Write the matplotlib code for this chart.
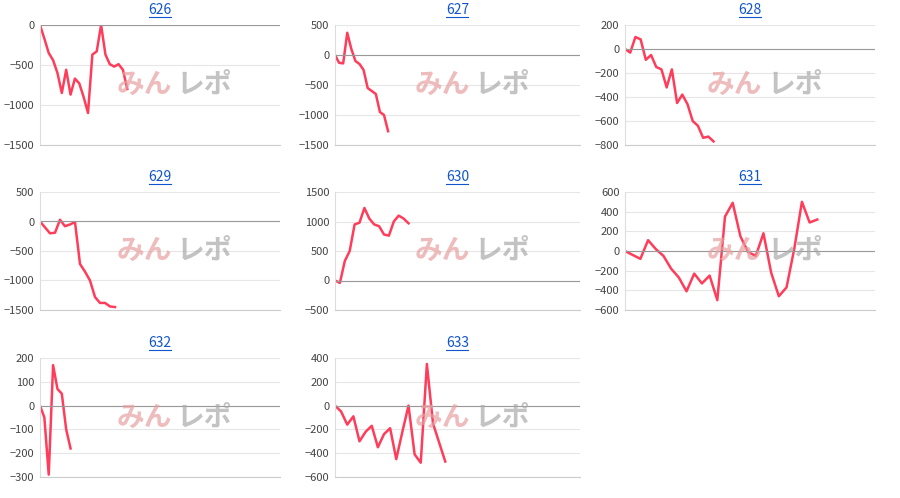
import matplotlib.pyplot as plt
from matplotlib.ticker import MultipleLocator

plt.rcParams['font.family'] = ['Noto Sans CJK JP', 'DejaVu Sans']

# panel data (index = play order)
titles = ["626", "627", "628", "629", "630", "631", "632", "633"]
s626 = [0, -170, -350, -440, -600, -850, -560, -870, -670, -730, -900, -1100, -370, -330, 0, -370, -490, -520, -490, -560, -800]
s627 = [0, -130, -140, 370, 100, -100, -150, -250, -550, -600, -650, -950, -1000, -1270]
s628 = [0, -30, 100, 80, -90, -50, -150, -170, -320, -170, -450, -380, -460, -600, -640, -740, -730, -770]
s629 = [0, -100, -200, -190, 30, -80, -50, -10, -720, -850, -1000, -1280, -1380, -1380, -1440, -1450]
s630 = [0, -40, 330, 500, 950, 980, 1230, 1050, 950, 920, 780, 760, 1000, 1100, 1050, 970]
s631 = [0, -40, -80, 110, 20, -50, -180, -270, -410, -230, -330, -250, -500, 350, 490, 150,
        -10, -50, 180, -220, -460, -370, 20, 500, 290, 320]
s632 = [0, -50, -290, 170, 70, 50, -100, -180]
s633 = [0, -50, -160, -90, -300, -220, -170, -350, -240, -190, -450, -220, 0, -410, -480, 350, -150, -310, -470]
series = [s626, s627, s628, s629, s630, s631, s632, s633]
ylims = [(-1500, 0), (-1500, 500), (-800, 200), (-1500, 500), (-500, 1500), (-600, 600), (-300, 200), (-600, 400)]
ysteps = [500, 500, 200, 500, 500, 200, 100, 200]
xspans = [55, 60, 48, 48, 50, 32.5, 55, 40]

W, H = 900, 498
cols = [(40, 280), (335, 580), (625, 875)]
rows = [(25, 145), (192, 310), (358, 477)]

fig = plt.figure(figsize=(9, 4.98), dpi=100)
for i, (t, s) in enumerate(zip(titles, series)):
    c0, c1 = cols[i % 3]
    r0, r1 = rows[i // 3]
    ax = fig.add_axes([c0 / W, 1 - r1 / H, (c1 - c0) / W, (r1 - r0) / H])
    ax.plot(range(len(s)), s, color='#ff3d5a', lw=1.8)
    ax.set_xlim(0, xspans[i])
    ax.set_ylim(*ylims[i])
    ax.yaxis.set_major_locator(MultipleLocator(ysteps[i]))
    ax.set_xticks([])
    ax.grid(axis='y', color='#e6e6e6', lw=0.8)
    ax.axhline(0, color='#999999', lw=0.8)
    ax.set_axisbelow(True)
    for sp in ['top', 'right']:
        ax.spines[sp].set_visible(False)
    ax.spines['left'].set_color('#dddddd')
    ax.spines['bottom'].set_color('#cccccc')
    ax.tick_params(axis='y', length=0, labelsize=8, labelcolor='#444444', pad=4)
    ax.set_title(t, color='#1155cc', fontsize=10, pad=8)
    # underline under the title link
    hw = 11 / (c1 - c0)
    uy = 1 + 8 / (r1 - r0)
    ax.plot([0.5 - hw, 0.5 + hw], [uy, uy], transform=ax.transAxes, color='#1155cc',
            lw=0.8, clip_on=False)
    # watermark
    ax.text(0.55, 0.5, 'みん', transform=ax.transAxes, fontsize=20, color='#e8a0a0',
            alpha=0.7, ha='right', va='center', fontweight='bold', style='italic')
    ax.text(0.57, 0.5, 'レポ', transform=ax.transAxes, fontsize=20, color='#aaaaaa',
            alpha=0.7, ha='left', va='center', fontweight='bold', style='italic')

fig.savefig('out.png', dpi=100)
